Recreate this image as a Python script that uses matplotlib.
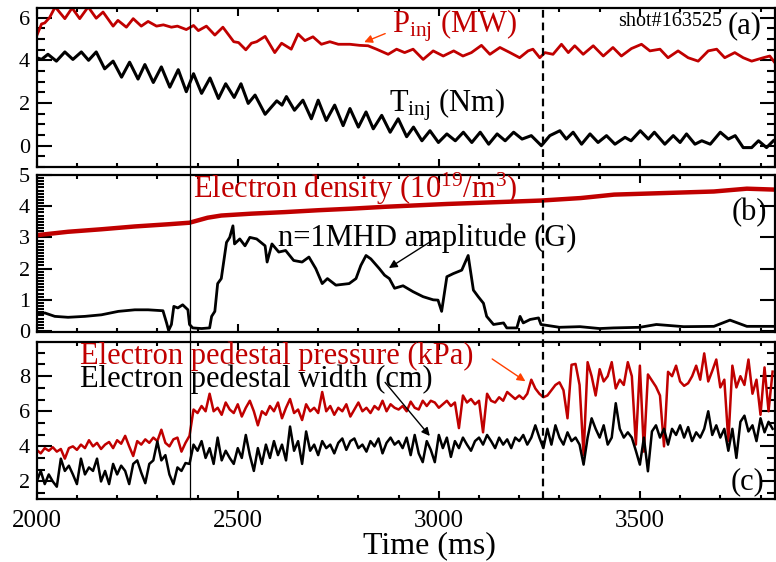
import numpy as np
import matplotlib
matplotlib.use("Agg")
import matplotlib.pyplot as plt
import matplotlib.transforms as mtransforms
from matplotlib.lines import Line2D
from matplotlib.ticker import MultipleLocator, AutoMinorLocator

# ---- panel (a): injected power / torque ----
t_pinj = [2000, 2012, 2020, 2032, 2046, 2070, 2088, 2107, 2128, 2148, 2165, 2190, 2202, 2223,
          2240, 2260, 2277, 2298, 2315, 2335, 2350, 2372, 2390, 2402, 2422, 2443, 2463, 2490,
          2502, 2520, 2534, 2547, 2568, 2592, 2609, 2633, 2650, 2667, 2687, 2708, 2729, 2750,
          2779, 2803, 2824, 2845, 2874, 2895, 2915, 2936, 2961, 2986, 3011, 3037, 3060, 3081,
          3106, 3127, 3152, 3177, 3201, 3222, 3234, 3251, 3264, 3284, 3305, 3322, 3338, 3359,
          3384, 3409, 3433, 3454, 3479, 3504, 3525, 3550, 3570, 3595, 3620, 3645, 3670, 3691,
          3711, 3736, 3757, 3778, 3807, 3823, 3836]
pinj = [5.15, 5.7, 5.75, 6.0, 6.5, 5.95, 6.45, 5.95, 6.5, 5.97, 6.26, 5.6, 5.87, 5.55,
        5.95, 5.6, 5.82, 5.6, 5.66, 5.55, 5.6, 5.44, 5.63, 5.39, 5.6, 5.18, 5.55, 4.87,
        4.83, 4.49, 4.8, 4.87, 5.12, 4.36, 4.8, 4.52, 5.23, 4.92, 5.1, 4.75, 4.87, 4.75,
        4.75, 4.7, 4.68, 4.52, 4.28, 4.52, 4.36, 4.52, 4.04, 4.44, 4.2, 4.44, 4.2, 4.36,
        4.7, 4.28, 4.6, 4.36, 4.12, 4.44, 4.52, 4.12, 4.36, 4.28, 4.75, 4.36, 4.68, 4.28,
        4.68, 4.2, 4.6, 4.2, 4.55, 4.75, 4.44, 4.52, 4.12, 4.44, 4.12, 3.96, 4.44, 4.52,
        4.12, 4.36, 4.12, 3.96, 4.12, 4.2, 3.88]

t_tinj = [2000, 2012, 2028, 2049, 2070, 2090, 2111, 2129, 2148, 2169, 2190, 2211, 2231, 2252,
          2269, 2290, 2310, 2331, 2352, 2372, 2390, 2410, 2431, 2452, 2470, 2491, 2508, 2526,
          2543, 2568, 2597, 2610, 2621, 2641, 2662, 2683, 2700, 2720, 2741, 2762, 2779, 2800,
          2819, 2837, 2858, 2879, 2899, 2920, 2937, 2958, 2978, 2999, 3020, 3041, 3061, 3082,
          3103, 3124, 3145, 3165, 3186, 3207, 3230, 3255, 3276, 3301, 3317, 3334, 3355, 3376,
          3396, 3417, 3438, 3463, 3478, 3501, 3521, 3536, 3562, 3583, 3600, 3616, 3637, 3654,
          3675, 3700, 3720, 3737, 3757, 3778, 3795, 3815, 3832]
tinj = [4.12, 4.04, 4.28, 3.96, 4.39, 4.04, 4.39, 4.0, 4.39, 3.6, 3.96, 3.21, 3.91, 3.12,
        3.8, 2.96, 3.69, 2.74, 3.56, 2.53, 3.37, 2.45, 3.17, 2.21, 2.9, 2.26, 2.9, 1.98,
        2.37, 1.47, 2.1, 1.9, 2.3, 1.66, 2.13, 1.26, 2.13, 1.18, 1.9, 0.94, 1.74, 0.87,
        1.58, 0.79, 1.42, 0.63, 1.26, 0.42, 0.87, 0.23, 0.7, 0.15, 0.55, 0.23, 0.63, 0.15,
        0.63, 0.07, 0.55, 0.23, 0.63, 0.31, 0.47, 0.0, 0.47, 0.7, 0.31, 0.63, 0.07, 0.55,
        0.15, 0.47, 0.07, 0.39, 0.23, 0.7, 0.31, 0.63, 0.07, 0.47, 0.15, 0.55, 0.07, 0.23,
        0.07, 0.63, 0.31, 0.47, -0.09, -0.09, 0.23, -0.09, 0.23]

# ---- panel (b): density / n=1 MHD amplitude ----
t_ne = [2000, 2078, 2161, 2244, 2327, 2380, 2425, 2459, 2534, 2617, 2700, 2783, 2866,
        3020, 3254, 3353, 3436, 3560, 3684, 3766, 3836]
ne = [3.07, 3.18, 3.26, 3.35, 3.42, 3.47, 3.63, 3.70, 3.76, 3.81, 3.87, 3.92, 3.98,
      4.07, 4.18, 4.26, 4.37, 4.42, 4.47, 4.56, 4.53]

t_mhd = [2000, 2020, 2045, 2078, 2120, 2161, 2203, 2244, 2277, 2314, 2323, 2328, 2335, 2341,
         2351, 2363, 2376, 2380, 2388, 2410, 2430, 2435, 2443, 2450, 2459, 2472, 2480, 2488,
         2492, 2505, 2518, 2530, 2547, 2568, 2573, 2585, 2602, 2619, 2639, 2660, 2677, 2694,
         2710, 2723, 2744, 2777, 2794, 2806, 2819, 2831, 2852, 2865, 2877, 2890, 2911, 2936,
         2961, 2986, 2998, 3007, 3020, 3036, 3057, 3073, 3086, 3098, 3111, 3119, 3136, 3161,
         3169, 3194, 3202, 3210, 3227, 3248, 3254, 3300, 3351, 3400, 3434, 3500, 3541, 3609,
         3684, 3724, 3766, 3836]
mhd = [0.52, 0.58, 0.47, 0.44, 0.47, 0.52, 0.63, 0.68, 0.68, 0.65, 0.26, 0.02, 0.21, 0.79,
       0.74, 0.84, 0.68, 0.21, 0.1, 0.08, 0.1, 0.47, 0.63, 1.52, 1.68, 2.84, 3.0, 3.37,
       2.79, 2.95, 2.73, 3.0, 2.95, 2.73, 2.21, 2.79, 2.53, 2.58, 2.26, 2.21, 2.37, 2.0,
       1.52, 1.68, 1.47, 1.52, 1.68, 2.1, 2.42, 2.31, 2.0, 1.79, 1.68, 1.37, 1.45, 1.26,
       1.1, 1.0, 0.99, 0.63, 1.74, 1.84, 1.95, 2.42, 1.31, 1.1, 0.89, 0.47, 0.21, 0.26,
       0.1, 0.1, 0.47, 0.26, 0.37, 0.42, 0.21, 0.12, 0.14, 0.08, 0.1, 0.12, 0.21, 0.14,
       0.15, 0.35, 0.15, 0.15]

# ---- panel (c): pedestal pressure / width, one value every 10 ms from 2000 ms ----
p_ped = [3.8, 3.6, 3.9, 3.75, 3.95, 3.7, 3.85, 3.3, 3.9, 4.0,
         3.8, 4.1, 3.9, 4.35, 4.0, 4.2, 3.85, 4.1, 4.25, 3.9,
         4.35, 4.15, 4.6, 4.0, 3.45, 4.3, 4.1, 4.4, 4.2, 4.5,
         4.3, 4.95, 4.2, 4.0, 4.4, 4.5, 3.7, 4.2, 4.6, 6.1,
         5.9, 6.3, 6.0, 7.0, 6.0, 6.2, 5.8, 6.5, 6.1, 5.9,
         6.4, 5.7, 6.2, 6.6, 6.0, 5.2, 6.0, 5.8, 6.3, 6.0,
         6.5, 5.6, 6.2, 6.7, 5.9, 6.1, 5.5, 6.4, 6.0, 6.2,
         5.9, 7.1, 6.0, 6.3, 5.8, 6.2, 6.0, 6.4, 5.7, 6.1,
         6.5, 6.0, 6.2, 5.9, 6.3, 6.1, 6.6, 6.0, 6.4, 6.2,
         6.1, 6.3, 6.0, 6.55, 6.2, 6.1, 6.6, 6.3, 6.6, 6.5,
         6.2, 6.4, 6.6, 6.3, 6.5, 5.04, 6.9, 6.5, 6.7, 6.4,
         6.6, 4.8, 7.0, 6.6, 6.5, 6.8, 6.6, 7.1, 6.9, 6.7,
         6.9, 6.7, 7.0, 7.8, 7.3, 7.0, 6.8, 6.9, 7.2, 7.5,
         7.65, 7.2, 5.6, 8.65, 8.7, 7.5, 3.5, 8.8, 8.0, 6.9,
         8.4, 7.7, 8.0, 8.8, 7.3, 7.8, 7.5, 8.8, 8.0, 4.1,
         8.6, 3.7, 8.1, 7.75, 7.4, 6.9, 4.0, 8.25, 8.0, 8.6,
         7.7, 7.45, 7.6, 8.0, 8.6, 7.8, 9.3, 7.7, 8.3, 8.95,
         7.36, 7.8, 4.3, 8.6, 7.36, 8.0, 7.5, 8.95, 7.0, 7.8,
         5.8, 8.5, 6.0, 8.26]
w_ped = [2.0, 2.6, 1.85, 2.4, 2.0, 1.7, 3.3, 2.6, 2.9, 2.4,
         1.85, 3.3, 2.4, 2.8, 2.6, 3.3, 2.0, 2.6, 1.85, 3.0,
         2.4, 2.9, 2.6, 1.85, 3.0, 3.2, 2.5, 1.9, 3.0, 3.2,
         4.28, 3.2, 3.5, 2.4, 1.85, 2.8, 2.6, 3.05, 3.0, 4.1,
         3.75, 4.3, 3.34, 3.9, 3.0, 4.5, 3.2, 3.75, 3.34, 3.0,
         3.9, 3.34, 4.65, 3.5, 2.6, 3.9, 3.0, 4.1, 3.34, 4.3,
         3.5, 4.1, 3.2, 5.13, 3.75, 4.3, 3.0, 4.85, 3.75, 4.1,
         3.5, 4.3, 3.9, 4.1, 3.6, 4.2, 4.45, 3.8, 4.3, 4.45,
         3.9, 4.1, 3.7, 4.3, 4.0, 4.45, 3.6, 4.2, 4.5, 4.1,
         4.3, 3.9, 4.5, 3.5, 4.65, 3.6, 3.1, 4.3, 3.8, 3.1,
         4.65, 3.9, 4.5, 3.4, 4.3, 3.9, 4.5, 4.1, 3.75, 4.3,
         4.5, 4.1, 4.65, 4.3, 3.9, 4.5, 4.1, 4.4, 3.9, 4.5,
         4.3, 4.65, 4.1, 4.5, 5.2, 4.5, 3.9, 5.0, 4.1, 5.2,
         4.5, 4.1, 4.8, 4.3, 4.5, 4.1, 2.96, 4.5, 5.6, 5.0,
         4.5, 5.2, 4.1, 4.5, 6.46, 5.0, 4.5, 4.8, 4.5, 3.75,
         2.96, 4.5, 2.58, 4.85, 5.2, 4.5, 5.0, 4.1, 5.0, 4.65,
         5.2, 4.5, 5.1, 4.3, 4.8, 4.5, 5.0, 6.0, 4.65, 5.2,
         4.5, 5.0, 3.75, 5.0, 3.34, 5.4, 5.75, 4.85, 5.2, 4.3,
         5.6, 4.8, 5.4, 5.0]
t_ped = 2000 + 10 * np.arange(len(p_ped))
t_wid = 2000 + 10 * np.arange(len(w_ped))

t_lhtrans = 2380   # solid vertical line
t_dashed = 3260    # dashed vertical line

RED = "#c00000"
ORANGE = "#ff4000"

plt.rcParams["font.family"] = ["Liberation Serif", "DejaVu Serif"]
plt.rcParams["mathtext.fontset"] = "custom"
plt.rcParams["mathtext.rm"] = "Liberation Serif"
plt.rcParams["mathtext.it"] = "Liberation Serif:italic"

fig = plt.figure(figsize=(7.76, 5.62), dpi=100)
ax_a = fig.add_axes([0.0473, 0.7028, 0.9514, 0.2830])
ax_b = fig.add_axes([0.0473, 0.4093, 0.9514, 0.2794])
ax_c = fig.add_axes([0.0473, 0.1121, 0.9514, 0.2794])

ax_a.plot(t_pinj, pinj, color=RED, lw=2.0)
ax_a.plot(t_tinj, tinj, color="black", lw=2.2)
ax_b.plot(t_ne, ne, color=RED, lw=3.2)
ax_b.plot(t_mhd, mhd, color="black", lw=2.0)
ax_c.plot(t_ped, p_ped, color=RED, lw=1.8)
ax_c.plot(t_wid, w_ped, color="black", lw=1.8)

ax_a.set_ylim(-1.0, 6.45)
ax_b.set_ylim(-0.03, 5.0)
ax_c.set_ylim(1.0, 9.95)
ax_a.yaxis.set_major_locator(MultipleLocator(2))
ax_a.yaxis.set_minor_locator(MultipleLocator(0.5))
ax_b.yaxis.set_major_locator(MultipleLocator(1))
ax_b.yaxis.set_minor_locator(MultipleLocator(0.1))
ax_c.yaxis.set_major_locator(MultipleLocator(2))
ax_c.yaxis.set_minor_locator(AutoMinorLocator(3))

for ax in (ax_a, ax_b, ax_c):
    ax.set_xlim(2000, 3836)
    ax.xaxis.set_major_locator(MultipleLocator(500))
    ax.xaxis.set_minor_locator(MultipleLocator(100))
    ax.tick_params(which="both", direction="in", top=True, right=True, width=1.5)
    ax.tick_params(axis="y", which="major", length=11, labelsize=16, pad=5)
    ax.tick_params(axis="y", which="minor", length=6)
    ax.tick_params(axis="x", which="major", length=6, labelsize=18, pad=8)
    ax.tick_params(axis="x", which="minor", length=3)
    for s in ax.spines.values():
        s.set_linewidth(1.6)
ax_a.set_ylim(-1.0, 6.45)
ax_a.set_yticks([0, 2, 4, 6])
ax_a.tick_params(labelbottom=False)
ax_b.tick_params(labelbottom=False)
ax_b.tick_params(axis="y", which="minor", right=False, length=5)
ax_c.set_yticks([2, 4, 6, 8])

# vertical markers running through all three panels
tr = mtransforms.blended_transform_factory(ax_c.transData, fig.transFigure)
fig.add_artist(Line2D([t_lhtrans, t_lhtrans], [0.1121, 0.9858], transform=tr, color="black", lw=0.9))
fig.add_artist(Line2D([t_dashed, t_dashed], [0.1121, 0.9858], transform=tr, color="black",
                      lw=1.6, linestyle=(0, (3.5, 2.2))))

# annotations
ax_a.text(2883, 5.3, r"P$_{\rm inj}$ (MW)", color=RED, fontsize=22, va="baseline")
ax_a.annotate("", xy=(2808, 4.8), xytext=(2873, 5.3),
              arrowprops=dict(arrowstyle="-|>", color=ORANGE, lw=1, mutation_scale=12))
ax_a.text(2876, 1.6, r"T$_{\rm inj}$ (Nm)", color="black", fontsize=22, va="baseline")
ax_a.text(3445, 5.62, "shot#163525", fontsize=14.5, va="baseline", ha="left")
ax_a.text(3761, 5.6, "(a)", fontsize=22, va="center", ha="center")

ax_b.text(2388, 4.26, r"Electron density (10$^{19}$/m$^{3}$)", color=RED, fontsize=22, va="baseline")
ax_b.text(2600, 2.73, "n=1MHD amplitude (G)", color="black", fontsize=22, va="baseline")
ax_b.annotate("", xy=(2870, 1.97), xytext=(3002, 3.05),
              arrowprops=dict(arrowstyle="-|>", color="black", lw=1, mutation_scale=12))
ax_b.text(3773, 3.8, "(b)", fontsize=22, va="center", ha="center")

ax_c.text(2107, 8.72, "Electron pedestal pressure (kPa)", color=RED, fontsize=22, va="baseline")
ax_c.text(2107, 7.39, "Electron pedestal width (cm)", color="black", fontsize=22, va="baseline")
ax_c.annotate("", xy=(3221, 7.62), xytext=(3127, 9.07),
              arrowprops=dict(arrowstyle="-|>", color=ORANGE, lw=1, mutation_scale=12))
ax_c.annotate("", xy=(2982, 4.47), xytext=(2862, 7.77),
              arrowprops=dict(arrowstyle="-|>", color="black", lw=1, mutation_scale=12))
ax_c.text(3767, 2.0, "(c)", fontsize=22, va="center", ha="center")

fig.text(429 / 776, 0.016, "Time (ms)", ha="center", va="baseline", fontsize=23)

fig.savefig("out.png", dpi=100)
